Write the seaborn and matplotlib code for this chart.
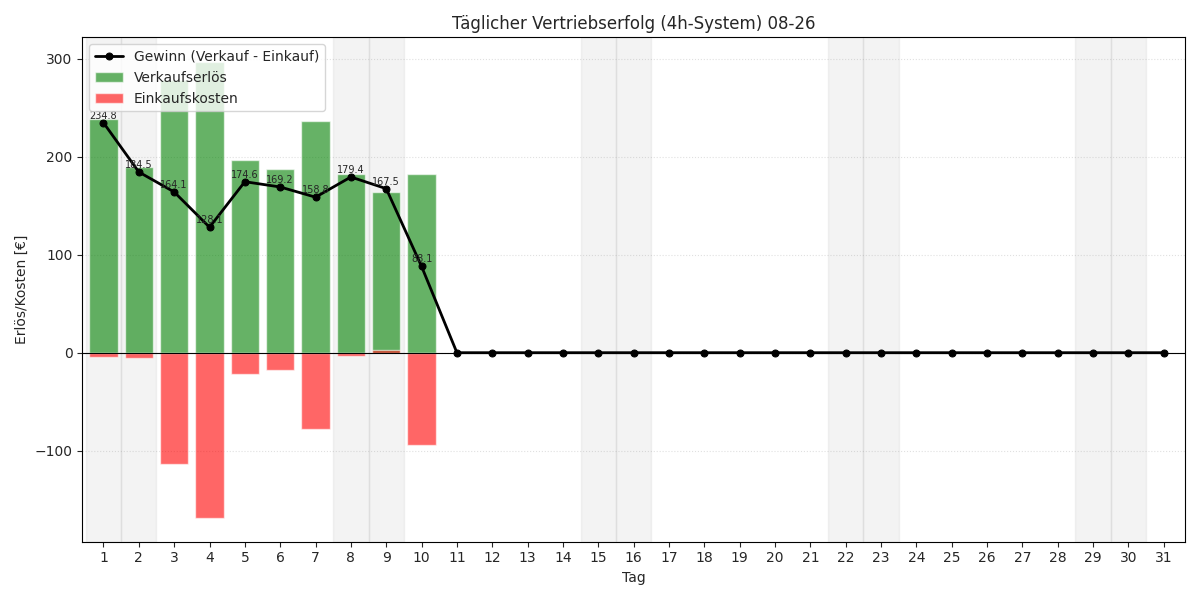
import matplotlib
matplotlib.use("Agg")
import matplotlib.pyplot as plt
import seaborn as sns
import numpy as np
import pandas as pd

days = list(range(1, 32))
revenue = [238.8, 189.5, 278.1, 297.1, 196.6, 187.2, 236.8, 182.4, 164.5, 182.1] + [0]*21
costs = [-4, -5, -114, -169, -22, -18, -78, -3, 3, -94] + [0]*21
profit = [234.8, 184.5, 164.1, 128.1, 174.6, 169.2, 158.8, 179.4, 167.5, 88.1] + [0]*21
weekend_days = [1, 2, 8, 9, 15, 16, 22, 23, 29, 30]

sns.set_style("white")
fig, ax = plt.subplots(figsize=(12, 6), dpi=100)
for d in weekend_days:
    ax.axvspan(d - 0.5, d + 0.5, color="gray", alpha=0.09, lw=1)

df = pd.DataFrame({"Tag": days, "rev": revenue, "cost": costs, "profit": profit})
sns.barplot(data=df, x="Tag", y="rev", native_scale=True, width=0.8, color="green",
            alpha=0.6, label="Verkaufserlös", ax=ax, saturation=1)
sns.barplot(data=df, x="Tag", y="cost", native_scale=True, width=0.8, color="red",
            alpha=0.6, label="Einkaufskosten", ax=ax, saturation=1)
sns.lineplot(data=df, x="Tag", y="profit", color="black", lw=2, marker="o", markersize=5,
             markeredgecolor="black", label="Gewinn (Verkauf - Einkauf)", ax=ax)
for d, p in zip(days, profit):
    if p != 0:
        ax.text(d, p + 2, f"{p:.1f}", ha="center", va="bottom", fontsize=7)
ax.axhline(0, color="black", lw=0.8)
ax.grid(axis="y", linestyle=":", alpha=0.6)
ax.set_xticks(days)
ax.set_xlim(0.5 - 0.1, 31.5 + 0.1)
ax.set_ylim(-193, 322)
ax.set_xlabel("Tag")
ax.set_ylabel("Erlös/Kosten [€]")
ax.set_title("Täglicher Vertriebserfolg (4h-System) 08-26")
h, l = ax.get_legend_handles_labels()
order = [l.index("Gewinn (Verkauf - Einkauf)"), l.index("Verkaufserlös"), l.index("Einkaufskosten")]
ax.legend([h[i] for i in order], [l[i] for i in order], loc="upper left")
for s in ax.spines.values():
    s.set_color("black")
ax.tick_params(left=True, bottom=True)
fig.tight_layout()
fig.savefig("out.png")
